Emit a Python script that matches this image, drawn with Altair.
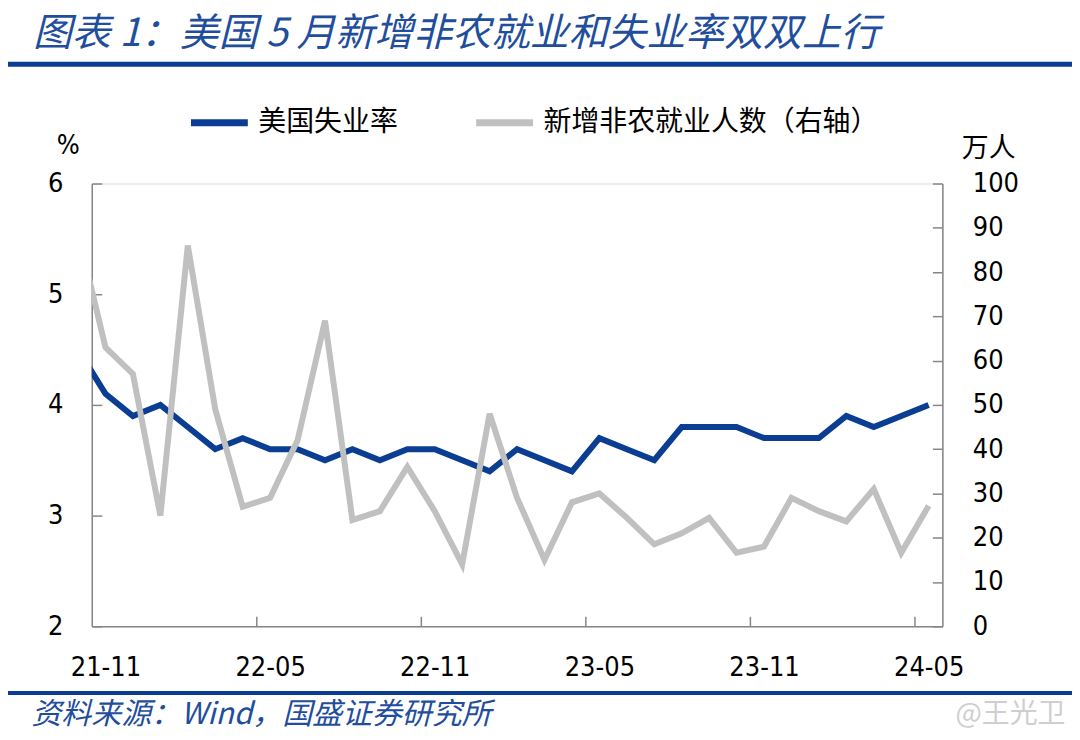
import altair as alt
import pandas as pd

# ---------------- data ----------------
months = ["21-10", "21-11", "21-12", "22-01", "22-02", "22-03", "22-04", "22-05",
          "22-06", "22-07", "22-08", "22-09", "22-10", "22-11", "22-12", "23-01",
          "23-02", "23-03", "23-04", "23-05", "23-06", "23-07", "23-08", "23-09",
          "23-10", "23-11", "23-12", "24-01", "24-02", "24-03", "24-04", "24-05"]
unemployment = [4.5, 4.1, 3.9, 4.0, 3.8, 3.6, 3.7, 3.6, 3.6, 3.5, 3.6, 3.5, 3.6, 3.6,
                3.5, 3.4, 3.6, 3.5, 3.4, 3.7, 3.6, 3.5, 3.8, 3.8, 3.8, 3.7, 3.7, 3.7,
                3.9, 3.8, 3.9, 4.0]
payrolls = [89, 63, 57, 25, 86, 49, 27, 29, 42, 69, 24, 26, 36, 26, 14, 48, 29, 15,
            28, 30, 24.5, 18.5, 21, 24.5, 16.6, 18, 29, 26, 23.7, 31, 16.6, 27.2]
series_names = ["美国失业率", "新增非农就业人数（右轴）"]
tick_labels = ["21-11", "22-05", "22-11", "23-05", "23-11", "24-05"]
left_ticks = [2, 3, 4, 5, 6]
right_ticks = [0, 10, 20, 30, 40, 50, 60, 70, 80, 90, 100]
title_text = "图表 1：美国 5 月新增非农就业和失业率双双上行"
source_text = "资料来源：Wind，国盛证券研究所"
watermark_text = "@王光卫"

# ---------------- derived table ----------------
first_shown = months.index(tick_labels[0])
df = pd.DataFrame({
    "pos": [i - first_shown for i in range(len(months))],
    "month": months,
    "unemployment": unemployment,
    "payrolls": payrolls,
})
label_pos = [months.index(m) - first_shown for m in tick_labels]
tick_pos = [p - 0.5 for p in label_pos[1:]]
label_expr = "[" + ",".join("'%s'" % t for t in tick_labels) + "][indexof([" + \
    ",".join(str(p) for p in label_pos) + "], datum.value)]"

# ---------------- style ----------------
W, H = 853, 444
BLUE = "#0B3E93"
TBLUE = "#1F4E9D"
GRAY = "#C0C0C0"
AX = "#868686"
NUM = "DejaVu Sans Condensed, DejaVu Sans"
CJK = "Noto Sans CJK SC"

x_scale = alt.Scale(domain=[-0.5, len(months) - first_shown - 0.5], nice=False, zero=False)
y_left = alt.Scale(domain=[left_ticks[0], left_ticks[-1]], nice=False, zero=False)
y_right = alt.Scale(domain=[right_ticks[0], right_ticks[-1]], nice=False, zero=False)
color_scale = alt.Scale(domain=series_names, range=[BLUE, GRAY])

blue = alt.Chart(df).transform_calculate(
    series="'%s'" % series_names[0]
).mark_line(strokeWidth=6, clip=True).encode(
    x=alt.X("pos:Q", scale=x_scale, axis=alt.Axis(
        values=label_pos, labelExpr=label_expr, ticks=False, tickSize=0,
        domain=True, domainColor=AX, domainWidth=1.5, grid=False, labelFlush=False,
        labelFont=NUM, labelFontSize=27, labelColor="black", labelPadding=28,
        title=source_text, titleX=-61, titleY=88, titleAlign="left",
        titleBaseline="middle", titleFont=CJK, titleFontSize=30,
        titleFontStyle="italic", titleFontWeight="normal", titleColor=TBLUE)),
    y=alt.Y("unemployment:Q", scale=y_left, axis=alt.Axis(
        orient="left", values=left_ticks, ticks=False, tickSize=0,
        domainColor=AX, domainWidth=1.5, grid=False,
        labelFont=NUM, labelFontSize=27, labelColor="black", labelPadding=29,
        title="%", titleAngle=0, titleX=-24, titleY=-38, titleAlign="center",
        titleBaseline="middle", titleFont=NUM, titleFontSize=27,
        titleFontWeight="normal", titleColor="black")),
    color=alt.Color("series:N", scale=color_scale, legend=alt.Legend(
        orient="none", legendX=96, legendY=-93, direction="horizontal",
        title=None, symbolType="stroke", symbolSize=3249,
        symbolStrokeWidth=7, labelFont=CJK, labelFontSize=28,
        labelColor="black", labelLimit=600, labelOffset=7,
        columnPadding=63)),
)

gray = alt.Chart(df).transform_calculate(
    series="'%s'" % series_names[1]
).mark_line(strokeWidth=6, clip=True).encode(
    x=alt.X("pos:Q", scale=x_scale, axis=alt.Axis(
        orient="top", offset=-H, values=tick_pos, labels=False, domain=False,
        ticks=True, tickSize=10, tickColor=AX, tickWidth=1.5, grid=False,
        title=watermark_text, titleX=W + 123, titleY=88, titleAlign="right",
        titleBaseline="middle", titleFont=CJK, titleFontSize=28,
        titleFontWeight="normal", titleColor="#CFCFCF")),
    y=alt.Y("payrolls:Q", scale=y_right, axis=alt.Axis(
        orient="right", values=right_ticks, ticks=False, tickSize=0,
        domainColor=AX, domainWidth=1.5, grid=False,
        labelFont=NUM, labelFontSize=27, labelColor="black", labelPadding=30,
        title="万人", titleAngle=0, titleX=46, titleY=-35, titleAlign="center",
        titleBaseline="middle", titleFont=CJK, titleFontSize=27,
        titleFontWeight="normal", titleColor="black")),
    color=alt.Color("series:N", scale=color_scale),
)

# inward-pointing tick marks of the two value axes
left_inner = alt.Chart(df).mark_line(strokeOpacity=0).encode(
    x=alt.X("pos:Q", scale=x_scale, axis=None),
    y=alt.Y("unemployment:Q", scale=y_left, axis=alt.Axis(
        orient="right", offset=-W, values=left_ticks, labels=False, domain=False,
        ticks=True, tickSize=10, tickColor=AX, tickWidth=1.5, grid=False, title=None)),
)
right_inner = alt.Chart(df).mark_line(strokeOpacity=0).encode(
    x=alt.X("pos:Q", scale=x_scale, axis=None),
    y=alt.Y("payrolls:Q", scale=y_right, axis=alt.Axis(
        orient="left", offset=-W, values=right_ticks, labels=False, domain=False,
        ticks=True, tickSize=10, tickColor=AX, tickWidth=1.5, grid=False, title=None)),
)

one = pd.DataFrame({"k": [0]})
top_rule = alt.Chart(one).mark_rule(color=BLUE, strokeWidth=5).encode(
    x=alt.value(-88), x2=alt.value(983), y=alt.value(-119.5))
bottom_rule = alt.Chart(one).mark_rule(color=BLUE, strokeWidth=4).encode(
    x=alt.value(-88), x2=alt.value(983), y=alt.value(511))

chart = alt.layer(
    top_rule, bottom_rule, left_inner, right_inner, blue, gray
).resolve_scale(
    y="independent", x="shared"
).resolve_axis(
    x="independent", y="independent"
).properties(
    width=W, height=H,
    autosize=alt.AutoSizeParams(type="none"),
    padding={"left": 84, "top": 175, "right": 130, "bottom": 105},
    title=alt.TitleParams(
        text=title_text, anchor="start", frame="group", offset=8, dx=-59,
        font=CJK, fontSize=39, fontStyle="italic", fontWeight="normal", color=TBLUE),
).configure_view(stroke=None).configure(background="white")

chart.save("out.html", embed_options={"renderer": "svg", "actions": False})
